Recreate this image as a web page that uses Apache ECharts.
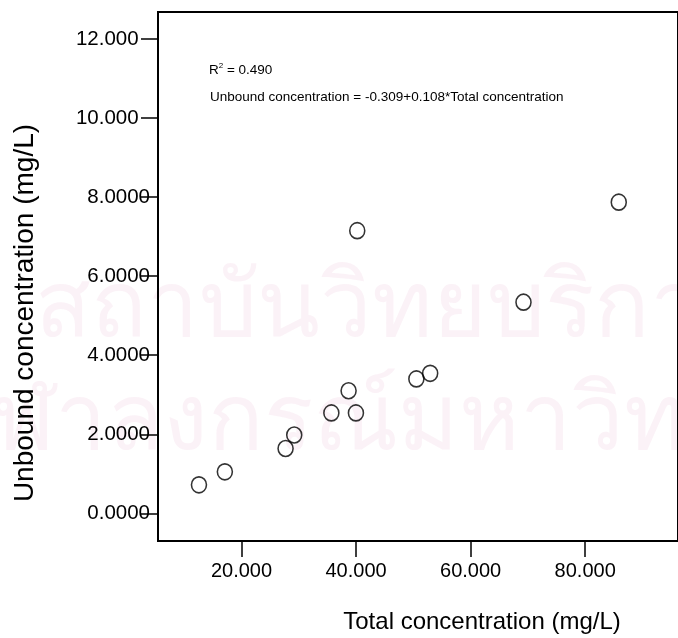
<!DOCTYPE html>
<html>
<head>
<meta charset="utf-8">
<script src="https://cdn.jsdelivr.net/npm/echarts@6/dist/echarts.min.js"></script>
<style>
html,body{margin:0;padding:0;background:#fff;}
#chart{width:678px;height:638px;}
</style>
</head>
<body>
<div id="chart"></div>
<script>
// Data
const totalConc   = [12.58, 17.10, 27.70, 29.21, 35.69, 38.70, 39.98, 40.21, 50.53, 52.94, 69.23, 85.86];
const unboundConc = [0.72, 1.05, 1.64, 1.98, 2.54, 3.10, 2.54, 7.15, 3.40, 3.54, 5.34, 7.87];
const xTicks = [20, 40, 60, 80];
const yTicks = [0, 2, 4, 6, 8, 10, 12];
const xTitle = 'Total concentration (mg/L)';
const yTitle = 'Unbound concentration (mg/L)';
const r2Text = '0.490';
const eqText = 'Unbound concentration = -0.309+0.108*Total concentration';
const watermark1 = 'สถาบันวิทยบริการ';
const watermark2 = 'จุฬาลงกรณ์มหาวิทยาลัย';

const points = totalConc.map((x, i) => [x, unboundConc[i]]);
const FONT = '"Liberation Sans", Arial, Helvetica, sans-serif';
const WM_FONT = '92px "Noto Sans", "DejaVu Sans", sans-serif';
const WM_FILL = 'rgba(235,190,215,0.2)';

const chart = echarts.init(document.getElementById('chart'), null, {renderer: 'canvas'});
chart.setOption({
  backgroundColor: '#ffffff',
  animation: false,
  grid: {left: 158, top: 12, right: -22, bottom: 97, show: true, borderColor: '#000', borderWidth: 2, backgroundColor: 'transparent', z: 3},
  xAxis: {
    type: 'value', min: 5.43, max: 96.2,
    splitLine: {show: false},
    axisLine: {show: true, onZero: false, lineStyle: {color: '#000', width: 2}},
    axisTick: {show: true, inside: false, length: 16, customValues: xTicks, lineStyle: {color: '#000', width: 1.5}},
    axisLabel: {show: true, customValues: xTicks, margin: 20, color: '#000', fontSize: 20, fontFamily: FONT,
      formatter: v => v.toFixed(3)}
  },
  yAxis: {
    type: 'value', min: -0.70, max: 12.68,
    splitLine: {show: false},
    axisLine: {show: true, onZero: false, lineStyle: {color: '#000', width: 2}},
    axisTick: {show: true, inside: false, length: 17, customValues: yTicks, lineStyle: {color: '#000', width: 1.5}},
    axisLabel: {show: true, customValues: yTicks, margin: 8, color: '#000', fontSize: 20.5, fontFamily: FONT,
      formatter: v => v >= 10 ? '{a|' + v.toFixed(3) + '}{h|0}' : v.toFixed(4),
      rich: {a: {fontSize: 20.5, fontFamily: FONT, color: '#000'}, h: {fontSize: 20.5, fontFamily: FONT, color: 'rgba(0,0,0,0)'}}}
  },
  series: [{
    type: 'scatter',
    data: points,
    symbol: 'circle',
    symbolSize: [15, 16],
    itemStyle: {color: 'rgba(255,255,255,0)', borderColor: '#000', borderWidth: 1.6},
    z: 5
  }],
  graphic: [
    {type: 'text', z: -10, x: 35, y: 264, style: {text: watermark1, font: WM_FONT, fill: WM_FILL, align: 'left', verticalAlign: 'top'}},
    {type: 'text', z: -10, x: -62, y: 377, style: {text: watermark2, font: WM_FONT, fill: WM_FILL, align: 'left', verticalAlign: 'top'}},
    {type: 'text', x: 209, y: 70, style: {text: 'R{s|2} = ' + r2Text, font: '13.5px ' + FONT, fill: '#000', verticalAlign: 'middle',
      rich: {s: {fontSize: 8, fontFamily: FONT, verticalAlign: 'top', padding: [0, 0, 8, 0]}}}},
    {type: 'text', x: 210, y: 97, style: {text: eqText, font: '13.5px ' + FONT, fill: '#000', verticalAlign: 'middle'}},
    {type: 'text', x: 482, y: 622, style: {text: xTitle, font: '24px ' + FONT, fill: '#000', align: 'center', verticalAlign: 'middle'}},
    {type: 'text', x: 25, y: 313, rotation: Math.PI / 2, style: {text: yTitle, font: '28px ' + FONT, fill: '#000', align: 'center', verticalAlign: 'middle'}}
  ]
});
</script>
</body>
</html>
